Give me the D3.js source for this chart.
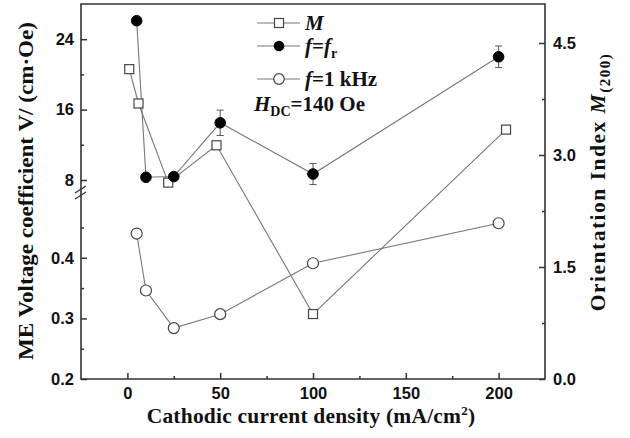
<!DOCTYPE html>
<html><head><meta charset="utf-8">
<script src="https://cdn.jsdelivr.net/npm/d3@7"></script>
<style>
body{margin:0;background:#fff}
svg{display:block}
.tick text{font-family:"Liberation Sans",Arial,sans-serif;font-weight:bold;font-size:16.5px;fill:#111}
.serif{font-family:"Liberation Serif","Times New Roman",serif;font-weight:bold;fill:#111}
</style></head>
<body><svg id="c" width="630" height="438"></svg>
<script>
// ---- data ----
const xVals = [5, 10, 25, 50, 100, 200];             // cathodic current density
const frVals = [26.1, 8.31, 8.39, 14.5, 8.68, 22.0]; // f = fr, V/(cm·Oe)
const frErr  = [0, 0, 0, 1.44, 1.2, 1.23];
const khzVals = [0.440, 0.346, 0.284, 0.307, 0.391, 0.457]; // f = 1 kHz
const mX = [1, 6, 22, 48, 100, 204];                  // M(200) positions
const mVals = [4.15, 3.69, 2.63, 3.13, 0.87, 3.34];   // orientation index
const xTicks = [0, 50, 100, 150, 200];
const xMinor = [25, 75, 125, 175];
const upperTicks = [8, 16, 24];
const upperMinor = [12, 20];
const lowerTicks = [0.2, 0.3, 0.4];
const lowerMinor = [0.25, 0.35, 0.45];
const rightTicks = [0.0, 1.5, 3.0, 4.5];
const rightMinor = [0.75, 2.25, 3.75];

// ---- layout ----
const L = 81, R = 545, T = 4, B = 379;
const svg = d3.select("#c");
const x = d3.scaleLinear().domain([-25, 225]).range([L, R]);
const yUp = d3.scaleLinear().domain([8, 28]).range([180, T]);
const yLo = d3.scaleLinear().domain([0.2, 0.5]).range([B, 197.2]);
const yR = d3.scaleLinear().domain([0, 4.5]).range([B, 43]);
const axisColor = "#333", lineColor = "#777";

function styleAxis(g){
  g.select(".domain").remove();
  g.selectAll(".tick line").attr("stroke", axisColor).attr("stroke-width", 1.5);
}
// bottom axis
svg.append("g").attr("transform", `translate(0,${B})`)
  .call(d3.axisBottom(x).tickValues(xTicks).tickSizeInner(-6).tickPadding(8).tickFormat(d3.format("d")))
  .call(styleAxis);
svg.append("g").attr("transform", `translate(0,${B})`)
  .call(d3.axisBottom(x).tickValues(xMinor).tickSizeInner(-3).tickFormat(""))
  .call(styleAxis);
// left axis upper
svg.append("g").attr("transform", `translate(${L},0)`)
  .call(d3.axisLeft(yUp).tickValues(upperTicks).tickSizeInner(-6).tickPadding(7).tickFormat(d3.format("d")))
  .call(styleAxis);
svg.append("g").attr("transform", `translate(${L},0)`)
  .call(d3.axisLeft(yUp).tickValues(upperMinor).tickSizeInner(-3).tickFormat(""))
  .call(styleAxis);
// left axis lower
svg.append("g").attr("transform", `translate(${L},0)`)
  .call(d3.axisLeft(yLo).tickValues(lowerTicks).tickSizeInner(-6).tickPadding(7).tickFormat(d3.format(".1f")))
  .call(styleAxis);
svg.append("g").attr("transform", `translate(${L},0)`)
  .call(d3.axisLeft(yLo).tickValues(lowerMinor).tickSizeInner(-3).tickFormat(""))
  .call(styleAxis);
// right axis
svg.append("g").attr("transform", `translate(${R},0)`)
  .call(d3.axisRight(yR).tickValues(rightTicks).tickSizeInner(-6).tickPadding(8).tickFormat(d3.format(".1f")))
  .call(styleAxis);
svg.append("g").attr("transform", `translate(${R},0)`)
  .call(d3.axisRight(yR).tickValues(rightMinor).tickSizeInner(-3).tickFormat(""))
  .call(styleAxis);

// frame
svg.append("path").attr("d", `M${L},${T}H${R}V${B}H${L}Z`)
  .attr("fill", "none").attr("stroke", axisColor).attr("stroke-width", 1.6);
// break marks
const brk = svg.append("g").attr("stroke", axisColor).attr("stroke-width", 1.3);
brk.append("line").attr("x1", L - 6).attr("y1", 193).attr("x2", L + 5).attr("y2", 186);
brk.append("line").attr("x1", L - 6).attr("y1", 199).attr("x2", L + 5).attr("y2", 192);

// ---- series ----
const lineUp = d3.line().x((d, i) => x(xVals[i])).y(d => yUp(d));
const lineLo = d3.line().x((d, i) => x(xVals[i])).y(d => yLo(d));
const lineM = d3.line().x((d, i) => x(mX[i])).y(d => yR(d));
svg.append("path").attr("d", lineM(mVals)).attr("fill", "none").attr("stroke", lineColor).attr("stroke-width", 1.1);
svg.append("path").attr("d", lineUp(frVals)).attr("fill", "none").attr("stroke", lineColor).attr("stroke-width", 1.1);
svg.append("path").attr("d", lineLo(khzVals)).attr("fill", "none").attr("stroke", lineColor).attr("stroke-width", 1.1);

// error bars
const eb = svg.append("g").attr("stroke", "#555").attr("stroke-width", 1);
frVals.forEach((v, i) => {
  if (!frErr[i]) return;
  const cx = x(xVals[i]);
  eb.append("line").attr("x1", cx).attr("x2", cx).attr("y1", yUp(v + frErr[i])).attr("y2", yUp(v - frErr[i]));
  eb.append("line").attr("x1", cx - 3.5).attr("x2", cx + 3.5).attr("y1", yUp(v + frErr[i])).attr("y2", yUp(v + frErr[i]));
  eb.append("line").attr("x1", cx - 3.5).attr("x2", cx + 3.5).attr("y1", yUp(v - frErr[i])).attr("y2", yUp(v - frErr[i]));
});

// markers
svg.append("g").selectAll("rect").data(mVals).join("rect")
  .attr("x", (d, i) => x(mX[i]) - 4.5).attr("y", d => yR(d) - 4.5)
  .attr("width", 9).attr("height", 9).attr("fill", "#fff").attr("stroke", "#444").attr("stroke-width", 1.2);
svg.append("g").selectAll("circle").data(frVals).join("circle")
  .attr("cx", (d, i) => x(xVals[i])).attr("cy", d => yUp(d)).attr("r", 5.3)
  .attr("fill", "#000").attr("stroke", "#000");
svg.append("g").selectAll("circle").data(khzVals).join("circle")
  .attr("cx", (d, i) => x(xVals[i])).attr("cy", d => yLo(d)).attr("r", 5.5)
  .attr("fill", "#fff").attr("stroke", "#444").attr("stroke-width", 1.2);

// ---- legend ----
const lg = svg.append("g");
const rows = [23, 46, 79];
rows.forEach((ry, k) => {
  lg.append("line").attr("x1", 257).attr("x2", 300).attr("y1", ry).attr("y2", ry)
    .attr("stroke", lineColor).attr("stroke-width", 1.1);
  if (k === 0) lg.append("rect").attr("x", 274.5).attr("y", ry - 4.5).attr("width", 9).attr("height", 9)
    .attr("fill", "#fff").attr("stroke", "#444").attr("stroke-width", 1.2);
  if (k === 1) lg.append("circle").attr("cx", 279).attr("cy", ry).attr("r", 5.3).attr("fill", "#000");
  if (k === 2) lg.append("circle").attr("cx", 279).attr("cy", ry).attr("r", 5.3)
    .attr("fill", "#fff").attr("stroke", "#444").attr("stroke-width", 1.2);
});
const t0 = lg.append("text").attr("class", "serif").attr("x", 305).attr("y", 30).attr("font-size", 21);
t0.append("tspan").attr("font-style", "italic").text("M");
const t1 = lg.append("text").attr("class", "serif").attr("x", 305).attr("y", 53).attr("font-size", 21);
t1.append("tspan").attr("font-style", "italic").text("f");
t1.append("tspan").text("=");
t1.append("tspan").attr("font-style", "italic").text("f");
t1.append("tspan").attr("font-size", 14).attr("dy", 5).text("r");
const t2 = lg.append("text").attr("class", "serif").attr("x", 305).attr("y", 86).attr("font-size", 21);
t2.append("tspan").attr("font-style", "italic").text("f");
t2.append("tspan").text("=1 kHz");
const t3 = lg.append("text").attr("class", "serif").attr("x", 254).attr("y", 111).attr("font-size", 21);
t3.append("tspan").attr("font-style", "italic").text("H");
t3.append("tspan").attr("font-size", 14).attr("dy", 5).text("DC");
t3.append("tspan").attr("dy", -5).text("=140 Oe");

// ---- axis titles ----
svg.append("text").attr("class", "serif").attr("font-size", 21)
  .attr("text-anchor", "middle").attr("transform", "translate(33,191) rotate(-90)")
  .attr("textLength", 338).attr("lengthAdjust", "spacingAndGlyphs")
  .text("ME Voltage coefficient V/ (cm·Oe)");
const xt = svg.append("text").attr("class", "serif").attr("font-size", 21.5)
  .attr("text-anchor", "middle").attr("x", 311).attr("y", 423).attr("letter-spacing", 0.2);
xt.append("tspan").text("Cathodic current density (mA/cm");
xt.append("tspan").attr("font-size", 13).attr("dy", -8).text("2");
xt.append("tspan").attr("dy", 8).text(")");
const rt = svg.append("text").attr("class", "serif").attr("font-size", 21.5)
  .attr("text-anchor", "middle").attr("transform", "translate(605,182) rotate(-90)")
  .attr("letter-spacing", 1.5);
rt.append("tspan").text("Orientation Index ");
rt.append("tspan").attr("font-style", "italic").text("M");
rt.append("tspan").attr("font-size", 15).attr("dy", 5).text("(200)");
</script></body></html>
